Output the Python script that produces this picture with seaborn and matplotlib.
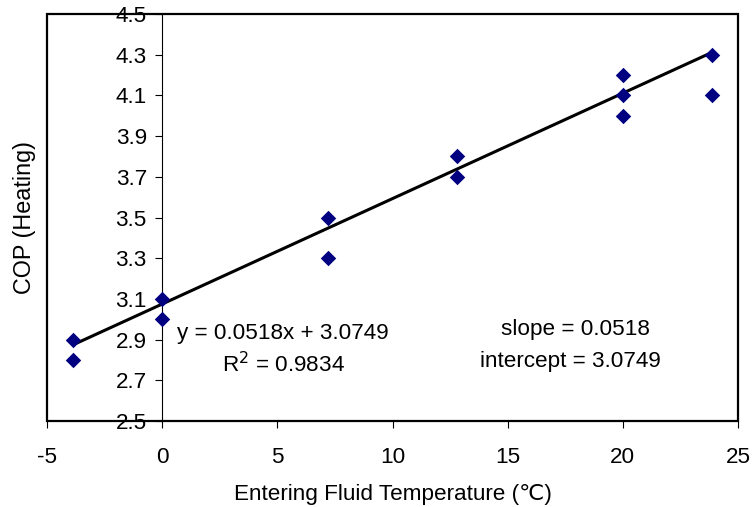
import matplotlib
matplotlib.use("Agg")
import matplotlib.pyplot as plt
import seaborn as sns
import numpy as np
import pandas as pd
from matplotlib.patches import Rectangle

# Data
temperature = [-3.89, -3.89, 0.0, 0.0, 7.22, 7.22, 12.78, 12.78, 20.0, 20.0, 20.0, 23.89, 23.89]
cop = [2.9, 2.8, 3.1, 3.0, 3.5, 3.3, 3.8, 3.7, 4.2, 4.1, 4.0, 4.3, 4.1]
slope = 0.0518
intercept = 3.0749
r_squared = 0.9834
x_ticks = [-5, 0, 5, 10, 15, 20, 25]
y_ticks = [2.5, 2.7, 2.9, 3.1, 3.3, 3.5, 3.7, 3.9, 4.1, 4.3, 4.5]

df = pd.DataFrame({"temp": temperature, "cop": cop})

sns.set_theme(style="white")
plt.rcParams["font.family"] = ["Liberation Sans", "DejaVu Sans"]
for k in ["text.color", "axes.labelcolor", "xtick.color", "ytick.color"]:
    plt.rcParams[k] = "black"
FS = 16.2

fig = plt.figure(figsize=(7.55, 5.07), dpi=100)
ax = fig.add_axes([0.0623, 0.1696, 0.9152, 0.8028])

# y axis crossing at x = 0 (set before tick styling)
ax.spines["left"].set_position(("data", 0))
ax.spines["left"].set_linewidth(0.8)
ax.spines["left"].set_color("black")
for s in ["top", "right", "bottom"]:
    ax.spines[s].set_visible(False)

sns.scatterplot(data=df, x="temp", y="cop", marker="D", s=62, color="#000080",
                linewidth=0, ax=ax, zorder=3)

# trendline over the data range
xl = np.array([min(temperature), max(temperature)])
ax.plot(xl, slope * xl + intercept, color="black", lw=2.2, zorder=2,
        solid_capstyle="butt")

ax.set_xlim(-5, 25)
ax.set_ylim(2.5, 4.5)
ax.set_xticks(x_ticks)
ax.set_yticks(y_ticks)
ax.set_xticklabels([str(t) for t in x_ticks])
ax.set_yticklabels([f"{t:.1f}" for t in y_ticks])

ax.add_patch(Rectangle((0, 0), 1, 1, transform=ax.transAxes, fill=False,
                       edgecolor="black", lw=1.6, clip_on=False, zorder=5))

ax.tick_params(axis="x", direction="out", length=5, width=0.8, color="black",
               pad=13.5, bottom=True, labelsize=FS)
ax.tick_params(axis="y", direction="out", length=5, width=0.8, color="black",
               pad=6, left=True, labelsize=FS)
for lbl in ax.get_yticklabels():
    lbl.set_zorder(6)

ax.set_xlabel("Entering Fluid Temperature (\u2103)", fontsize=FS, labelpad=11.5)
ax.set_ylabel("COP (Heating)", fontsize=16.8)
ax.yaxis.set_label_coords(-0.016, 0.5)

ax.text(5.25, 2.932, f"y = {slope}x + {intercept}", fontsize=FS, ha="center", va="center")
ax.text(5.25, 2.775, f"R$^2$ = {r_squared}", fontsize=FS, ha="center", va="center")
ax.text(17.93, 2.952, f"slope = {slope}", fontsize=FS, ha="center", va="center")
ax.text(17.71, 2.79, f"intercept = {intercept}", fontsize=FS, ha="center", va="center")

ax.grid(False)
fig.savefig("out.png", dpi=100)
